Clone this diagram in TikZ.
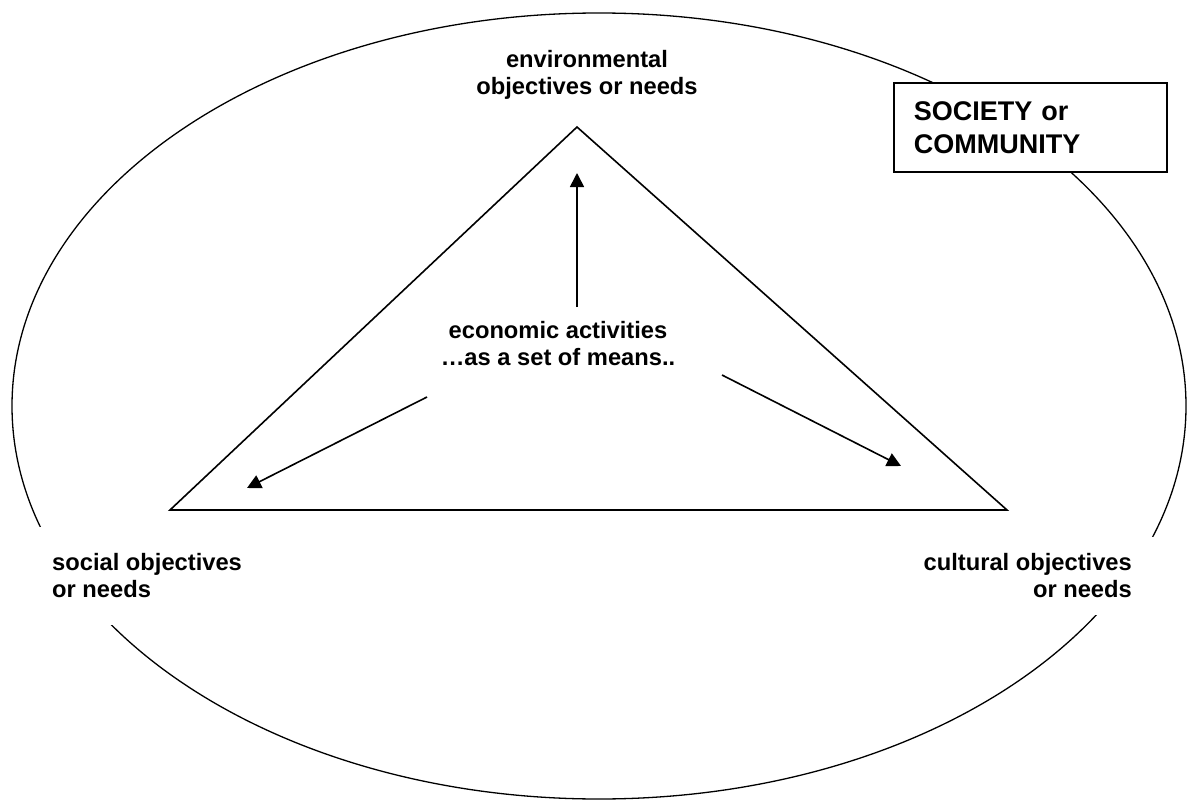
\documentclass[tikz,border=0pt]{standalone}
\usepackage{fontspec}
\setmainfont{Liberation Sans}
\usetikzlibrary{arrows.meta}
\tikzstyle{needs} = [font=\fontsize{23.7}{27}\selectfont\bfseries, inner sep=0pt]
\tikzstyle{needsmask} = [needs, fill=white, inner xsep=22pt]
\tikzstyle{society} = [draw, line width=1.6pt, fill=white, align=left,
  font=\fontsize{27}{33}\selectfont\bfseries, text width=233pt,
  minimum width=273pt, minimum height=89pt, inner xsep=20pt]
\tikzstyle{rim} = [draw, line width=1.3pt]
\tikzstyle{edge} = [draw, line width=1.6pt]
\tikzstyle{line} = [draw, line width=1.6pt, -{Triangle[length=14pt,width=14pt]}]
\begin{document}
\begin{tikzpicture}[x=1pt,y=-1pt]
  \useasboundingbox (0,0) rectangle (1187,800);

  % Draw diagram elements
  % society ring
  \path[rim] (599,406) ellipse [x radius=587pt, y radius=393pt];

  % the three objectives and the means
  \node (ENVIRON) [needs, align=center, anchor=north] at (587,50)
    {environmental\\objectives or needs};
  \node (SOCIAL) [needsmask, align=left, inner ysep=27pt, anchor=west] at (30,576)
    {social objectives\\or needs};
  \node (CULTURAL) [needsmask, align=right, inner ysep=17pt, anchor=east] at (1154,576)
    {cultural objectives\\or needs};
  \node (ECONOMIC) [needs, align=center, anchor=north] at (558,321)
    {economic activities\\…as a set of means..};

  % society box
  \node (SOCIETY) [society, anchor=north west] at (893,82) {SOCIETY or\\COMMUNITY};

  % triangle
  \coordinate (PEAK) at (577,127);
  \coordinate (LEFTCORNER) at (170,510);
  \coordinate (RIGHTCORNER) at (1007,510);
  \path[edge] (PEAK) -- (LEFTCORNER) -- (RIGHTCORNER) -- cycle;

  % Draw arrows between elements
  \coordinate (UPSTART) at (577,307);
  \coordinate (UPTIP) at (577,173);
  \coordinate (LEFTSTART) at (427,397);
  \coordinate (LEFTTIP) at (247,488);
  \coordinate (RIGHTSTART) at (722,375);
  \coordinate (RIGHTTIP) at (901,466);
  \path[line] (UPSTART) -- (UPTIP);
  \path[line] (LEFTSTART) -- (LEFTTIP);
  \path[line] (RIGHTSTART) -- (RIGHTTIP);

\end{tikzpicture}
\end{document}
